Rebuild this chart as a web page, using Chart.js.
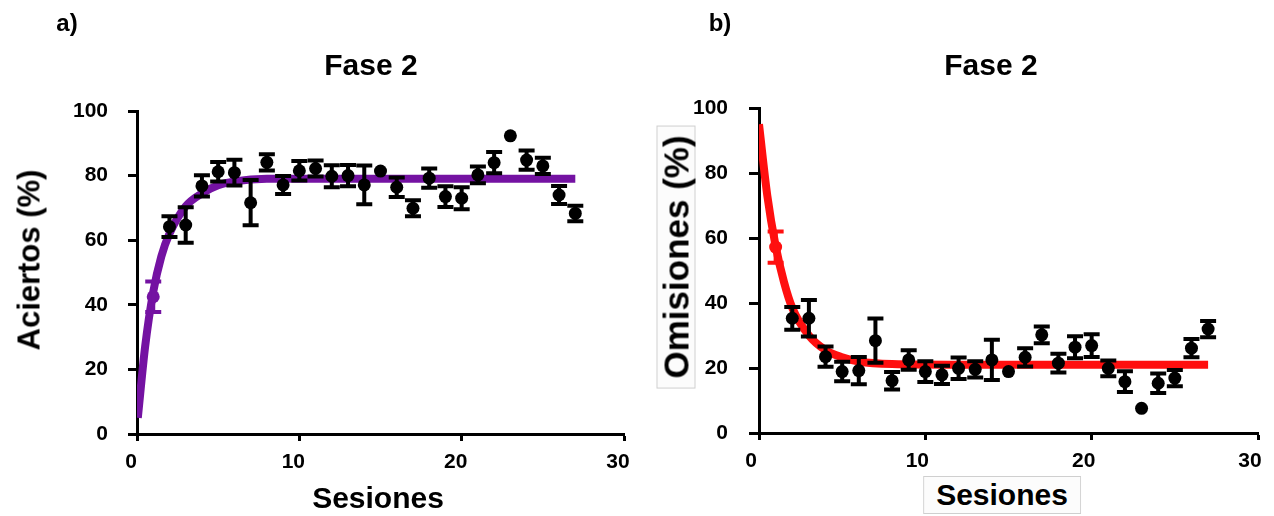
<!DOCTYPE html>
<html>
<head>
<meta charset="utf-8">
<script src="https://cdn.jsdelivr.net/npm/chart.js@4.4.0/dist/chart.umd.min.js"></script>
<style>
  body { margin: 0; background: #fff; }
  #wrap { position: relative; width: 1274px; height: 516px; overflow: hidden; font-family: 'Liberation Sans', Arial, sans-serif; font-weight: bold; color: #000; }
  canvas { position: absolute; top: 0; }
  .txt { position: absolute; white-space: nowrap; transform: translate(-50%, -50%); line-height: 1; }
  .rot { transform: translate(-50%, -50%) rotate(-90deg); }
  .box { border: 1px solid #cfcfcf; background: #fcfcfc; }
</style>
</head>
<body>
<div id="wrap">
  <canvas id="chartA" width="637" height="516" style="left:0"></canvas>
  <canvas id="chartB" width="637" height="516" style="left:637px"></canvas>

  <div class="txt" style="left:67px; top:23px; font-size:24px;">a)</div>
  <div class="txt" style="left:720px; top:23px; font-size:24px;">b)</div>
  <div class="txt" style="left:371px; top:65px; font-size:30px;">Fase 2</div>
  <div class="txt" style="left:991px; top:65px; font-size:30px;">Fase 2</div>
  <div class="txt rot" style="left:29px; top:260px; font-size:31px;">Aciertos (%)</div>
  <div class="txt rot box" style="left:676px; top:257px; font-size:35px; padding:1px 9px;">Omisiones (%)</div>
  <div class="txt" style="left:378px; top:498px; font-size:30px;">Sesiones</div>
  <div class="txt box" style="left:1002px; top:495px; font-size:30px; padding:3px 12px;">Sesiones</div>
</div>

<script>
// sesiones 1..27
const sessions = [1, 2, 3, 4, 5, 6, 7, 8, 9, 10, 11, 12, 13, 14, 15, 16, 17, 18, 19, 20, 21, 22, 23, 24, 25, 26, 27];

// a) aciertos (%) media y error
const aciertos = [42.5, 64.2, 64.7, 76.8, 81.2, 80.9, 71.6, 84.1, 77.1, 81.5, 82.2, 79.8, 80.0, 77.1, 81.4, 76.4, 69.9, 79.2, 73.5, 73.0, 80.2, 84.0, 92.3, 84.8, 83.0, 74.0, 68.3];
const aciertosErr = [4.7, 3.2, 5.5, 3.3, 3.0, 4.0, 7.0, 2.5, 2.8, 3.0, 2.5, 3.4, 3.3, 6.0, 0, 3.0, 2.5, 3.0, 3.2, 3.4, 2.6, 3.3, 0, 3.0, 2.5, 2.8, 2.4];
// curva ajustada
const ajusteAX = [0.05, 0.5, 1, 1.5, 2, 3, 4, 5, 6, 8, 12, 27];
const ajusteAY = [5, 27, 44, 55, 62, 70.5, 74.5, 77, 78.2, 79, 79, 79];

// b) omisiones (%)
const omisiones = [57.2, 35.3, 35.3, 23.5, 18.9, 19.2, 28.4, 16.1, 22.5, 18.9, 17.9, 19.9, 19.6, 22.5, 18.9, 23.3, 30.2, 21.5, 26.4, 26.9, 19.9, 15.8, 7.6, 15.3, 16.9, 26.1, 32.0];
const omisionesErr = [4.8, 3.5, 5.6, 3.1, 3.0, 4.2, 6.8, 2.7, 3.0, 3.2, 2.8, 3.3, 2.5, 6.2, 0, 2.8, 2.6, 2.9, 3.4, 3.5, 2.4, 3.2, 0, 3.0, 2.5, 2.8, 2.5];
const ajusteBX = [0, 0.5, 1, 1.5, 2, 3, 4, 5, 6, 8, 12, 27];
const ajusteBY = [95, 73, 57.5, 46.5, 38.5, 30, 25.5, 23.3, 22, 21.2, 21, 21];

const xTicks = [0, 10, 20, 30];
const yTicks = [0, 20, 40, 60, 80, 100];

const FONT = "'Liberation Sans', Arial, sans-serif";

// barras de error con tapas
const errorBars = {
  id: 'errorBars',
  afterDatasetsDraw(chart, args, opts) {
    const ctx = chart.ctx;
    const xs = chart.scales.x, ys = chart.scales.y;
    ctx.save();
    ctx.lineWidth = 4;
    opts.values.forEach((v, i) => {
      const e = opts.errs[i];
      if (!e) return;
      const px = xs.getPixelForValue(sessions[i]);
      const top = ys.getPixelForValue(v + e);
      const bot = ys.getPixelForValue(v - e);
      ctx.strokeStyle = i === 0 ? opts.firstColor : '#000';
      ctx.beginPath();
      ctx.moveTo(px, top); ctx.lineTo(px, bot);
      ctx.moveTo(px - 8, top); ctx.lineTo(px + 8, top);
      ctx.moveTo(px - 8, bot); ctx.lineTo(px + 8, bot);
      ctx.stroke();
    });
    ctx.restore();
  }
};

function makeChart(id, values, errs, fitX, fitY, color, box) {
  new Chart(document.getElementById(id), {
    type: 'scatter',
    data: {
      datasets: [{
        data: sessions.map((s, i) => ({ x: s, y: values[i] })),
        pointRadius: 6.5,
        pointHoverRadius: 6.5,
        pointBorderWidth: 0,
        pointBackgroundColor: c => c.dataIndex === 0 ? color : '#000',
        order: 0
      }, {
        data: fitX.map((x, i) => ({ x: x, y: fitY[i] })),
        showLine: true,
        borderColor: color,
        borderWidth: 8,
        pointRadius: 0,
        cubicInterpolationMode: 'monotone',
        order: 1
      }]
    },
    options: {
      responsive: false,
      animation: false,
      layout: { padding: { left: 0, right: box.right, top: box.top, bottom: 0 } },
      plugins: {
        legend: { display: false },
        tooltip: { enabled: false },
        errorBars: { values: values, errs: errs, firstColor: color }
      },
      scales: {
        x: {
          type: 'linear', min: 0, max: 30,
          afterBuildTicks: s => { s.ticks = xTicks.map(v => ({ value: v })); },
          afterFit: s => { s.height = box.xh; s.paddingLeft = 0; s.paddingRight = 0; },
          ticks: { color: '#000', font: { family: FONT, size: 21, weight: 'bold' }, padding: 9, labelOffset: box.lo, maxRotation: 0 },
          grid: { drawOnChartArea: false, tickLength: 7, tickWidth: 3, tickColor: '#000' },
          border: { display: true, color: '#000', width: 3 }
        },
        y: {
          type: 'linear', min: 0, max: 100,
          afterBuildTicks: s => { s.ticks = yTicks.map(v => ({ value: v })); },
          afterFit: s => { s.width = box.yw; s.paddingTop = 0; s.paddingBottom = 0; },
          ticks: { color: '#000', font: { family: FONT, size: 21, weight: 'bold' }, padding: box.yp },
          grid: { drawOnChartArea: false, tickLength: box.tl, tickWidth: 3, tickColor: '#000' },
          border: { display: true, color: '#000', width: 3 }
        }
      }
    },
    plugins: [errorBars]
  });
}

makeChart('chartA', aciertos, aciertosErr, ajusteAX, ajusteAY, '#7412a2',
  { right: 13, top: 111, xh: 82, yw: 137, yp: 20, tl: 9, lo: -6 });
makeChart('chartB', omisiones, omisionesErr, ajusteBX, ajusteBY, '#ff0f0f',
  { right: 16, top: 108, xh: 83, yw: 122, yp: 21, tl: 10, lo: -8 });
</script>
</body>
</html>
